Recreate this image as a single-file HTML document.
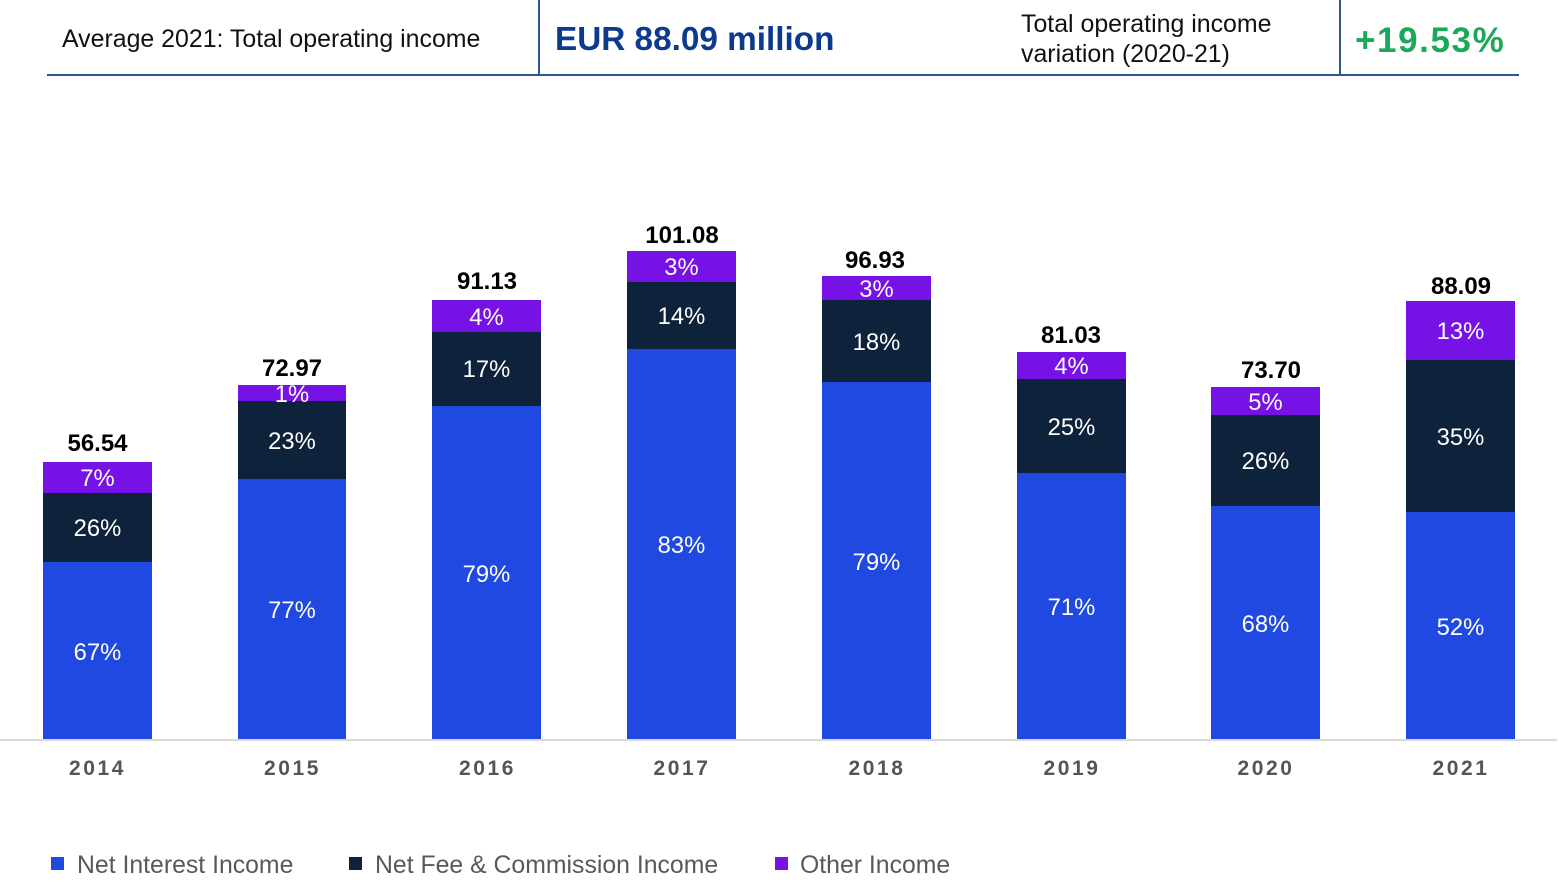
<!DOCTYPE html>
<html>
<head>
<meta charset="utf-8">
<style>
  html,body{margin:0;padding:0;background:#fff;}
  svg{display:block;}
  text{font-family:"Liberation Sans",Arial,sans-serif;}
</style>
</head>
<body>
<svg width="1559" height="884" viewBox="0 0 1559 884" xmlns="http://www.w3.org/2000/svg">
  <!-- Header -->
  <rect x="47" y="74" width="1472" height="2" fill="#2e5597"/>
  <rect x="538" y="0" width="2" height="76" fill="#2e5597"/>
  <rect x="1339" y="0" width="2" height="76" fill="#2e5597"/>
  <text x="62" y="47" font-size="24.9" fill="#111">Average 2021: Total operating income</text>
  <text x="555" y="50" font-size="33.3" font-weight="bold" fill="#0b3a8e">EUR 88.09 million</text>
  <text x="1021" y="32" font-size="24.9" fill="#111">Total operating income</text>
  <text x="1021" y="62" font-size="24.9" fill="#111">variation (2020-21)</text>
  <text x="1355" y="52" font-size="35" font-weight="bold" fill="#1ba85a" letter-spacing="1.6">+19.53%</text>

  <!-- Axis line -->
  <rect x="0" y="739" width="1557" height="2" fill="#d9d9d9"/>

  <!-- Bars -->
  <g>
    <rect x="43" y="562" width="109" height="177" fill="#1f49e0"/>
    <rect x="43" y="493" width="109" height="69" fill="#0e223b"/>
    <rect x="43" y="462" width="109" height="31" fill="#7612e6"/>

    <rect x="238" y="479" width="108" height="260" fill="#1f49e0"/>
    <rect x="238" y="401" width="108" height="78" fill="#0e223b"/>
    <rect x="238" y="385" width="108" height="16" fill="#7612e6"/>

    <rect x="432" y="406" width="109" height="333" fill="#1f49e0"/>
    <rect x="432" y="332" width="109" height="74" fill="#0e223b"/>
    <rect x="432" y="300" width="109" height="32" fill="#7612e6"/>

    <rect x="627" y="349" width="109" height="390" fill="#1f49e0"/>
    <rect x="627" y="282" width="109" height="67" fill="#0e223b"/>
    <rect x="627" y="251" width="109" height="31" fill="#7612e6"/>

    <rect x="822" y="382" width="109" height="357" fill="#1f49e0"/>
    <rect x="822" y="300" width="109" height="82" fill="#0e223b"/>
    <rect x="822" y="276" width="109" height="24" fill="#7612e6"/>

    <rect x="1017" y="473" width="109" height="266" fill="#1f49e0"/>
    <rect x="1017" y="379" width="109" height="94" fill="#0e223b"/>
    <rect x="1017" y="352" width="109" height="27" fill="#7612e6"/>

    <rect x="1211" y="506" width="109" height="233" fill="#1f49e0"/>
    <rect x="1211" y="415" width="109" height="91" fill="#0e223b"/>
    <rect x="1211" y="387" width="109" height="28" fill="#7612e6"/>

    <rect x="1406" y="512" width="109" height="227" fill="#1f49e0"/>
    <rect x="1406" y="360" width="109" height="152" fill="#0e223b"/>
    <rect x="1406" y="301" width="109" height="59" fill="#7612e6"/>
  </g>

  <!-- Percent labels -->
  <g font-size="23.8" fill="#ffffff" text-anchor="middle">
    <text x="97.5" y="486">7%</text>
    <text x="97.5" y="536">26%</text>
    <text x="97.5" y="660">67%</text>

    <text x="292" y="402">1%</text>
    <text x="292" y="449">23%</text>
    <text x="292" y="618">77%</text>

    <text x="486.5" y="325">4%</text>
    <text x="486.5" y="377">17%</text>
    <text x="486.5" y="582">79%</text>

    <text x="681.5" y="275">3%</text>
    <text x="681.5" y="324">14%</text>
    <text x="681.5" y="553">83%</text>

    <text x="876.5" y="297">3%</text>
    <text x="876.5" y="350">18%</text>
    <text x="876.5" y="570">79%</text>

    <text x="1071.5" y="374">4%</text>
    <text x="1071.5" y="435">25%</text>
    <text x="1071.5" y="615">71%</text>

    <text x="1265.5" y="410">5%</text>
    <text x="1265.5" y="469">26%</text>
    <text x="1265.5" y="632">68%</text>

    <text x="1460.5" y="339">13%</text>
    <text x="1460.5" y="445">35%</text>
    <text x="1460.5" y="635">52%</text>
  </g>

  <!-- Totals -->
  <g font-size="24" font-weight="bold" fill="#000" text-anchor="middle">
    <text x="97.5" y="451">56.54</text>
    <text x="292" y="376">72.97</text>
    <text x="487" y="289">91.13</text>
    <text x="682" y="243">101.08</text>
    <text x="875" y="268">96.93</text>
    <text x="1071" y="343">81.03</text>
    <text x="1271" y="378">73.70</text>
    <text x="1461" y="294">88.09</text>
  </g>

  <!-- Year labels -->
  <g font-size="21" font-weight="bold" fill="#555555" text-anchor="middle" letter-spacing="2.6">
    <text x="97.5" y="775">2014</text>
    <text x="292.5" y="775">2015</text>
    <text x="487.5" y="775">2016</text>
    <text x="682" y="775">2017</text>
    <text x="877" y="775">2018</text>
    <text x="1072" y="775">2019</text>
    <text x="1266" y="775">2020</text>
    <text x="1461" y="775">2021</text>
  </g>

  <!-- Legend -->
  <rect x="51" y="857" width="13" height="13" fill="#1f49e0"/>
  <text x="77" y="873" font-size="24.8" fill="#595959">Net Interest Income</text>
  <rect x="349" y="857" width="13" height="13" fill="#0e223b"/>
  <text x="375" y="873" font-size="24.8" fill="#595959">Net Fee &amp; Commission Income</text>
  <rect x="775" y="857" width="13" height="13" fill="#7612e6"/>
  <text x="800" y="873" font-size="24.8" fill="#595959">Other Income</text>
</svg>
</body>
</html>
